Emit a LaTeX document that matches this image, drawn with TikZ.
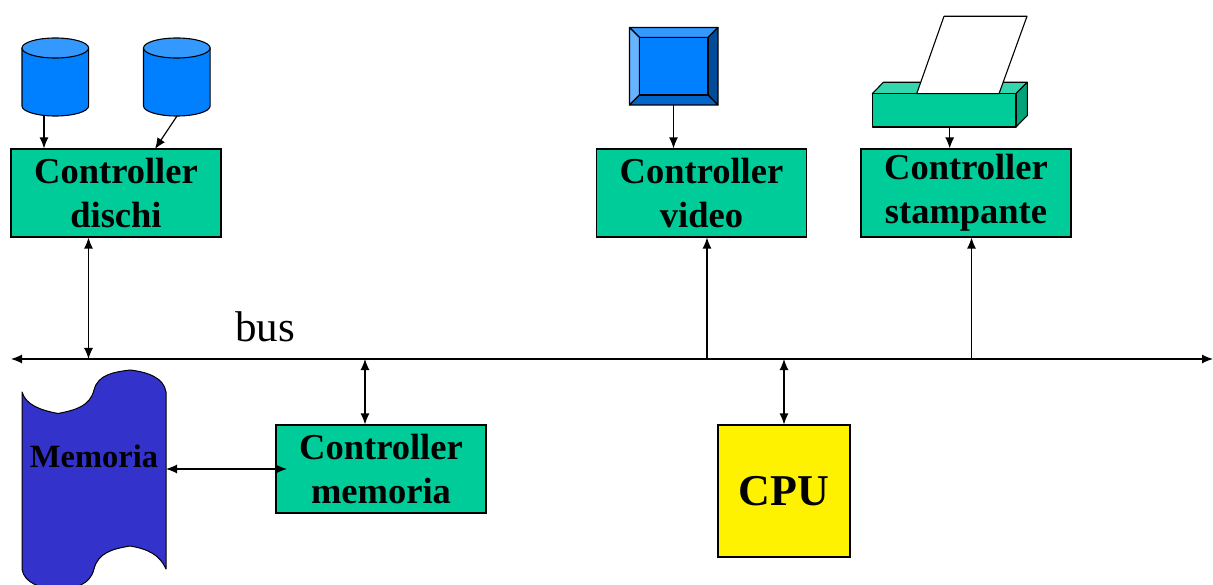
\documentclass[tikz,border=0pt]{standalone}
\usepackage{fontspec}
\setmainfont{Liberation Serif}
\usetikzlibrary{arrows.meta}
\definecolor{ctlgreen}{HTML}{00CC99}
\definecolor{disk}{HTML}{0080FF}
\definecolor{disktop}{HTML}{3399FF}
\definecolor{monleft}{HTML}{66B3FF}
\definecolor{monbot}{HTML}{0066CC}
\definecolor{monright}{HTML}{004C99}
\definecolor{prtop}{HTML}{33D6AD}
\definecolor{prside}{HTML}{00A37A}
\definecolor{memblue}{HTML}{3333CC}
\tikzset{
  ctl/.style={draw=black,fill=ctlgreen,line width=1.1pt,minimum width=210pt,minimum height=88pt,inner sep=0pt,align=center,font=\fontsize{36.5}{44}\selectfont\bfseries},
  shapeline/.style={draw=black,line width=1.1pt,line join=round},
  conn/.style={line width=1.2pt,-{Latex[length=11pt,width=9pt]}},
  dconn/.style={line width=1.2pt,{Latex[length=11pt,width=9pt]}-{Latex[length=11pt,width=9pt]}}
}
\newcommand{\diskshape}[1]{%
  \path[shapeline,fill=disk] (#1,48) -- (#1,106) arc[start angle=180,end angle=360,x radius=33.3pt,y radius=10pt] -- (#1+66.6,48) -- cycle;
  \path[shapeline,fill=disktop] (#1+33.3,48) ellipse[x radius=33.3pt,y radius=10pt];
}
\begin{document}
\begin{tikzpicture}[x=1pt,y=-1pt]
\useasboundingbox (0,0) rectangle (1213,585);
% disks
\diskshape{22}
\diskshape{143.5}
\coordinate (d1) at (44,116);
\coordinate (d2) at (177,116);
% monitor
\path[shapeline,fill=disktop] (629.5,27.5) -- (718,27.5) -- (708,37.5) -- (639.5,37.5) -- cycle;
\path[shapeline,fill=monleft] (629.5,27.5) -- (639.5,37.5) -- (639.5,95) -- (629.5,105) -- cycle;
\path[shapeline,fill=monright] (718,27.5) -- (718,105) -- (708,95) -- (708,37.5) -- cycle;
\path[shapeline,fill=monbot] (629.5,105) -- (639.5,95) -- (708,95) -- (718,105) -- cycle;
\path[shapeline,fill=disk] (639.5,37.5) rectangle (708,95);
\coordinate (mon) at (673.5,105);
% printer
\path[shapeline,fill=prtop] (872.3,93.7) -- (883.3,82.3) -- (1027.3,82.3) -- (1016,93.7) -- cycle;
\path[shapeline,fill=prside] (1016,93.7) -- (1027.3,82.3) -- (1027.3,115.5) -- (1016,127) -- cycle;
\path[shapeline,fill=ctlgreen] (872.3,93.7) rectangle (1016,127);
\path[shapeline,fill=white] (944,16.3) -- (1027,16.3) -- (999,93.7) -- (916.7,93.7) -- cycle;
\coordinate (prn) at (949.7,127);
% controllers
\node[ctl] (cd) at (116,193) {Controller\\dischi};
\node[ctl] (cv) at (701.5,193) {Controller\\video};
\node[ctl] (cs) at (966,193) {Controller\\stampante};
\node[ctl] (cm) at (381,469) {Controller\\memoria};
\node[draw=black,fill=yellow,line width=1.1pt,minimum width=132pt,minimum height=132pt,inner sep=0pt,font=\fontsize{44}{50}\selectfont\bfseries] (cpu) at (784,491) {CPU};
% memoria
\path[shapeline,line width=1pt,fill=memblue] (22,392)
  .. controls (26,405) and (40,410) .. (58,413.5)
  .. controls (76,410) and (90,406) .. (94,390)
  .. controls (98,374) and (115,372) .. (130,370)
  .. controls (148,372) and (164,378) .. (166,392)
  -- (166,569)
  .. controls (160,555) and (148,549) .. (130,546)
  .. controls (112,549) and (98,553) .. (94,569)
  .. controls (90,585) and (76,588) .. (58,590)
  .. controls (40,588) and (24,583) .. (22,569)
  -- cycle;
\node[inner sep=0pt,font=\fontsize{32.5}{38}\selectfont\bfseries] (mem) at (94,456) {Memoria};
\coordinate (memr) at (166,469);
\coordinate (cml) at (287,469);
% bus
\coordinate (busl) at (11,359);
\coordinate (busr) at (1213,359);
\coordinate (b1) at (88.5,359);
\coordinate (b2) at (365,359);
\coordinate (b3) at (707,359);
\coordinate (b4) at (784,359);
\coordinate (b5) at (971.5,359);
\draw[dconn] (busl) -- (busr);
\node[inner sep=0pt,font=\fontsize{43}{50}\selectfont] (bus) at (265,327) {bus};
% connectors
\draw[conn] (d1) -- (d1 |- cd.north);
\draw[conn] (d2) -- (155,149);
\draw[conn] (mon) -- (mon |- cv.north);
\draw[conn] (prn) -- (prn |- cs.north);
\draw[dconn] (b1) -- (b1 |- cd.south);
\draw[conn] (b3) -- (b3 |- cv.south);
\draw[conn] (b5) -- (b5 |- cs.south);
\draw[dconn] (b2) -- (b2 |- cm.north);
\draw[dconn] (b4) -- (cpu.north);
\draw[dconn] (memr) -- (cml);
\end{tikzpicture}
\end{document}
